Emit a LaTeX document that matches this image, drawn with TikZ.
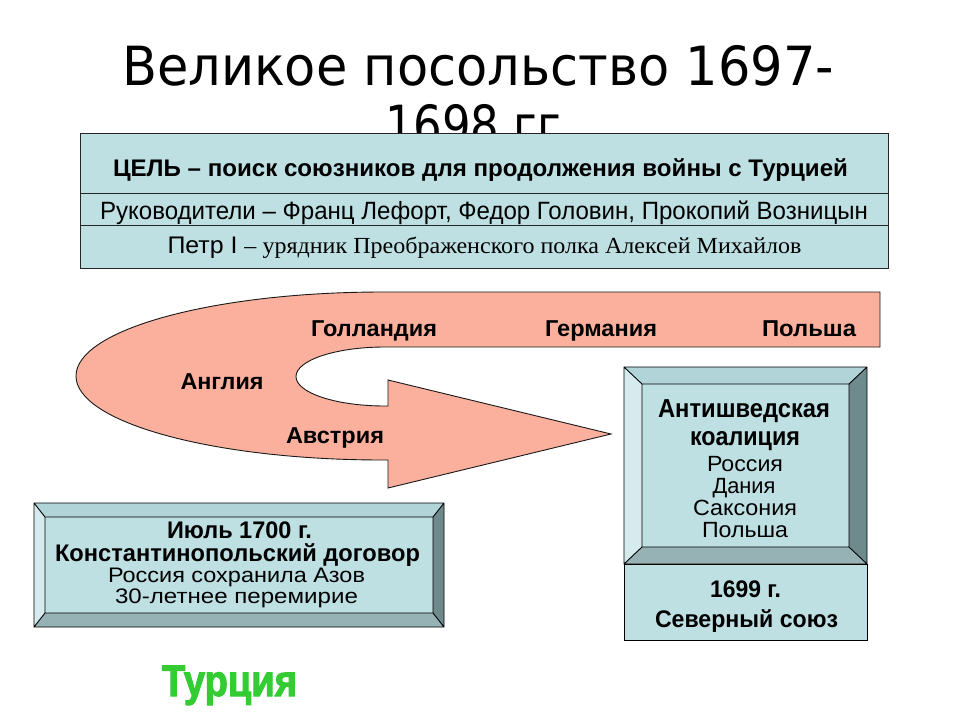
\documentclass[tikz,border=0pt]{standalone}
\usepackage{fontspec}
\setmainfont{Liberation Sans}
\newfontfamily\titlefont{DejaVu Sans}
\newfontfamily\serifrm{Liberation Serif}
\newfontfamily\heavyfont{Liberation Sans}[BoldFeatures={FakeBold=2.5}]
\usepackage{graphicx}
\newsavebox\fwbox
\newlength\fwlen
\newcommand\fw[2]{\sbox\fwbox{#2}\setlength\fwlen{\wd\fwbox}\scalebox{\fpeval{#1pt/\fwlen}}[1]{\usebox\fwbox}}
\definecolor{facecol}{RGB}{190,224,227}
\definecolor{bvtopcol}{RGB}{176,212,216}
\definecolor{bvleftcol}{RGB}{214,235,237}
\definecolor{bvrightcol}{RGB}{110,138,140}
\definecolor{bvbotcol}{RGB}{150,178,181}
\definecolor{salmon}{RGB}{250,176,156}
\definecolor{turkgreen}{RGB}{51,204,51}
\newcommand\bevelbox[7]{%
 \coordinate (#1-a) at (#2,#3); \coordinate (#1-b) at (#4,#3);
 \coordinate (#1-c) at (#4,#5); \coordinate (#1-d) at (#2,#5);
 \coordinate (#1-ia) at (#2+#6,#3+#7); \coordinate (#1-ib) at (#4-#6,#3+#7);
 \coordinate (#1-ic) at (#4-#6,#5-#7); \coordinate (#1-id) at (#2+#6,#5-#7);
 \fill[bvtopcol] (#1-a) -- (#1-b) -- (#1-ib) -- (#1-ia) -- cycle;
 \fill[bvleftcol] (#1-a) -- (#1-ia) -- (#1-id) -- (#1-d) -- cycle;
 \fill[bvrightcol] (#1-b) -- (#1-c) -- (#1-ic) -- (#1-ib) -- cycle;
 \fill[bvbotcol] (#1-d) -- (#1-c) -- (#1-ic) -- (#1-id) -- cycle;
 \fill[facecol] (#1-ia) rectangle (#1-ic);
 \draw[bvline] (#1-a) rectangle (#1-c) (#1-ia) rectangle (#1-ic)
   (#1-a) -- (#1-ia) (#1-b) -- (#1-ib) (#1-c) -- (#1-ic) (#1-d) -- (#1-id);
}
\tikzset{
  lbl/.style={anchor=base, inner sep=0pt, outer sep=0pt},
  rowbox/.style={draw=black!85, line width=1.2pt, fill=facecol, anchor=north west, inner sep=0pt, minimum width=808pt},
  bvline/.style={draw=black, line width=0.9pt, line join=miter},
  arrowshape/.style={fill=salmon, draw=black!90, line width=0.9pt, line join=miter},
}
\begin{document}
\begin{tikzpicture}[x=1pt,y=-1pt]
\useasboundingbox[fill=white] (0,0) rectangle (960,720);
% title
\node[lbl] (title1) at (478,85) {\fontsize{54}{54}\selectfont\titlefont\fw{712}{Великое посольство 1697-}};
\node[lbl] (title2) at (473,144) {\fontsize{54}{54}\selectfont\titlefont\fw{176}{1698 гг}};
% top box
\node[rowbox, minimum height=60pt] (goal) at (80,133) {};
\node[rowbox, minimum height=32pt] (leaders) at (80,193) {};
\node[rowbox, minimum height=43pt] (peter) at (80,225) {};
\node[lbl] (goaltxt) at (480.5,176) {\fontsize{24}{24}\selectfont\bfseries\fw{735}{ЦЕЛЬ – поиск союзников для продолжения войны с Турцией}};
\node[lbl] (leadtxt) at (484,219) {\fontsize{25}{25}\selectfont\fw{768}{Руководители – Франц Лефорт, Федор Головин, Прокопий Возницын}};
\node[lbl] (petertxt) at (484.5,253) {\fontsize{24}{24}\selectfont\fw{70}{Петр I}\hspace{7pt}{\fontsize{23}{23}\selectfont\fw{557}{\serifrm – урядник Преображенского полка Алексей Михайлов}}};
% curved arrow
\draw[arrowshape] (880,292) -- (383,292)
  .. controls (213.4,292) and (76,329.6) .. (76,376)
  .. controls (76,422.4) and (213.4,460) .. (383,460)
  -- (388,460) -- (388,488) -- (611,434) -- (388,380) -- (388,406) -- (385,406)
  .. controls (335.8,406) and (296,392.8) .. (296,376.5)
  .. controls (296,360.2) and (335.8,347) .. (385,347)
  -- (880,347) -- cycle;
\node[lbl] (holland) at (374,336) {\fontsize{23}{23}\selectfont\bfseries\fw{126}{Голландия}};
\node[lbl] (germany) at (601,336) {\fontsize{23}{23}\selectfont\bfseries\fw{112}{Германия}};
\node[lbl] (poland) at (809,336) {\fontsize{23}{23}\selectfont\bfseries\fw{94}{Польша}};
\node[lbl] (england) at (222,389) {\fontsize{23}{23}\selectfont\bfseries\fw{83}{Англия}};
\node[lbl] (austria) at (335,443) {\fontsize{23}{23}\selectfont\bfseries\fw{98}{Австрия}};
% coalition box
\bevelbox{coal}{624}{367}{867}{564}{18}{17}
\node[draw=black, line width=0.9pt, fill=facecol, anchor=north west, minimum width=243pt, minimum height=76pt, inner sep=0pt] (union) at (624,564) {};
\node[lbl] (c1) at (744,417) {\fontsize{26}{26}\selectfont\bfseries\fw{172}{Антишведская}};
\node[lbl] (c2) at (745,445) {\fontsize{26}{26}\selectfont\bfseries\fw{110}{коалиция}};
\node[lbl] (c3) at (745,471) {\fontsize{22}{22}\selectfont\fw{76}{Россия}};
\node[lbl] (c4) at (744,493) {\fontsize{22}{22}\selectfont\fw{63}{Дания}};
\node[lbl] (c5) at (745,515) {\fontsize{22}{22}\selectfont\fw{104}{Саксония}};
\node[lbl] (c6) at (745,537) {\fontsize{22}{22}\selectfont\fw{86}{Польша}};
\node[lbl] (u1) at (745.5,597) {\fontsize{24}{24}\selectfont\bfseries\fw{71}{1699 г.}};
\node[lbl] (u2) at (746.5,627) {\fontsize{24}{24}\selectfont\bfseries\fw{183}{Северный союз}};
% Turkey box
\bevelbox{turk}{34}{503}{444}{627}{11}{14}
\node[lbl] (t1) at (239.5,538) {\fontsize{24}{24}\selectfont\bfseries\fw{145}{Июль 1700 г.}};
\node[lbl] (t2) at (237.5,561) {\fontsize{24}{24}\selectfont\bfseries\fw{365}{Константинопольский договор}};
\node[lbl] (t3) at (236.5,582) {\fontsize{21}{21}\selectfont\fw{257}{Россия сохранила Азов}};
\node[lbl] (t4) at (236.5,603) {\fontsize{21}{21}\selectfont\fw{243}{30-летнее перемирие}};
% Turkey label
\node[lbl, text=turkgreen] (turkey) at (229.5,696) {\fontsize{44}{44}\selectfont\heavyfont\bfseries\fw{135}{Турция}};
\end{tikzpicture}
\end{document}
